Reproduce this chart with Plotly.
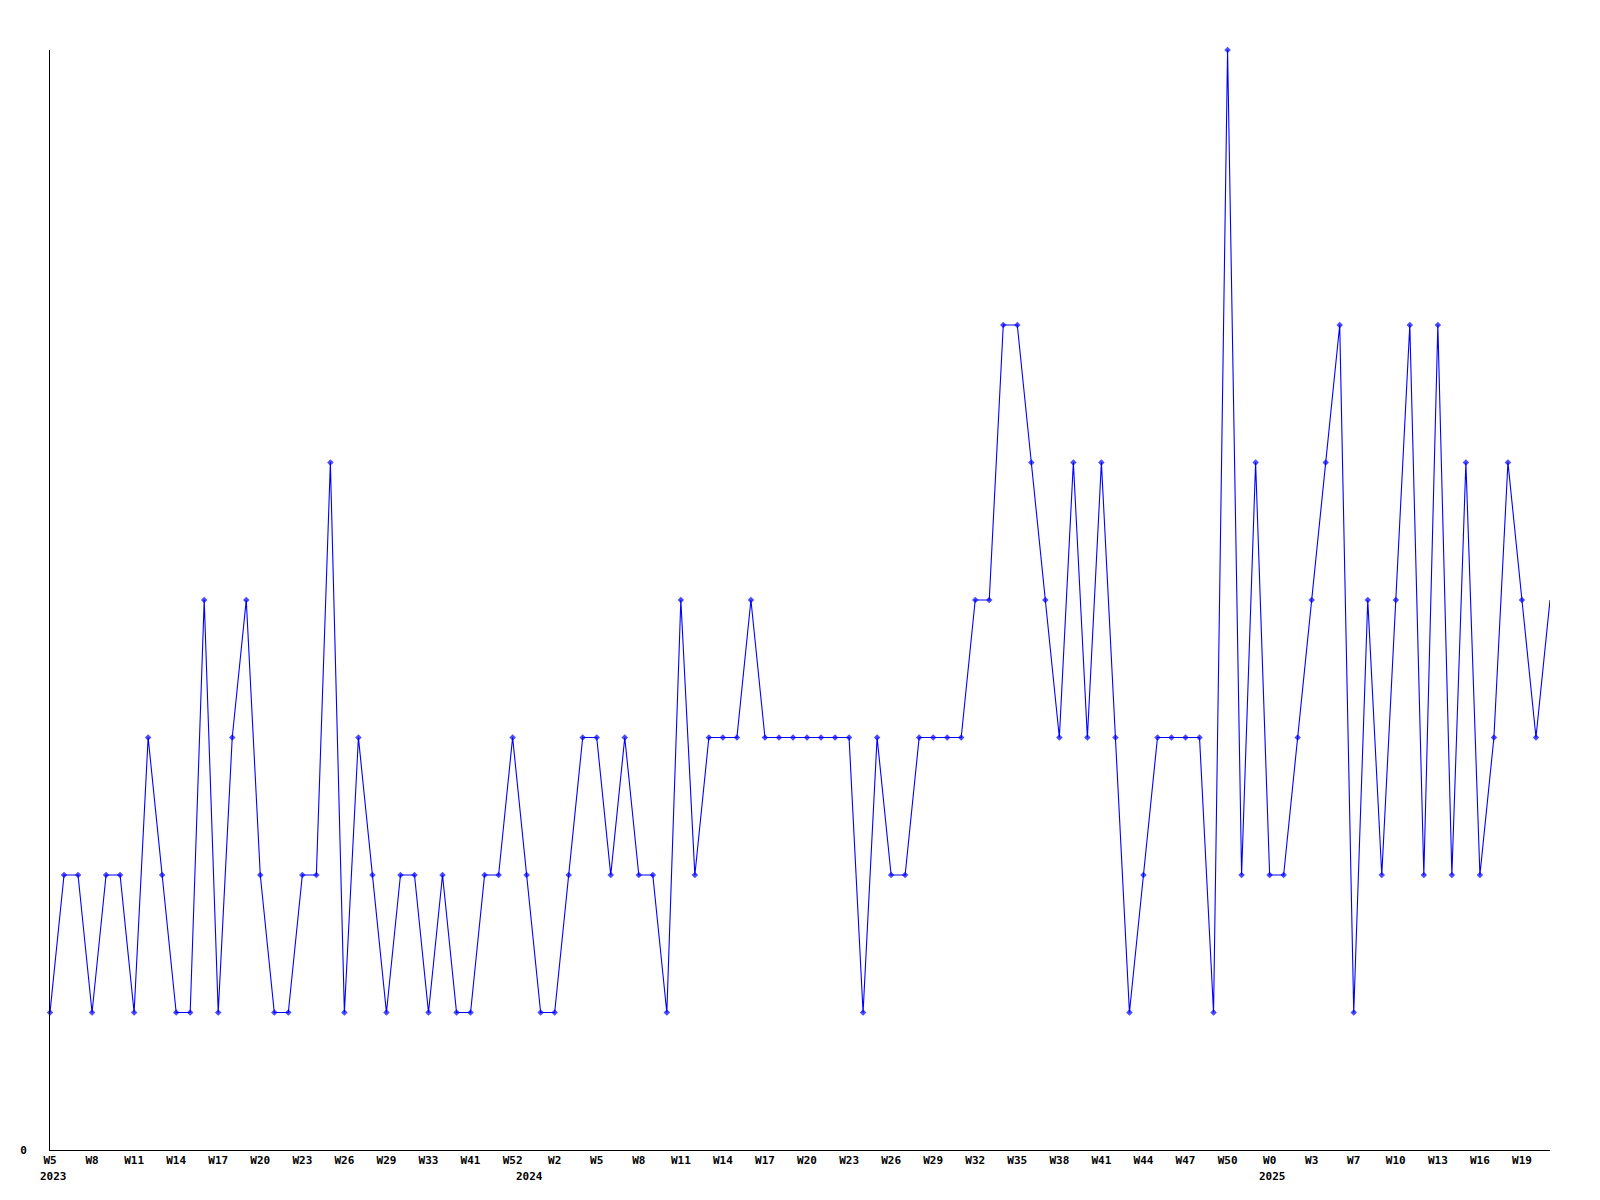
import plotly.graph_objects as go

# ---- data ----
weeks_2023 = [5, 6, 7, 8, 9, 10, 11, 12, 13, 14, 15, 16, 17, 18, 19, 20, 21, 22, 23, 24,
              25, 26, 27, 28, 29, 30, 31, 33, 35, 38, 41, 44, 48, 52]
weeks_2024 = [0, 1, 2, 3, 4, 5, 6, 7, 8, 9, 10, 11, 12, 13, 14, 15, 16, 17, 18, 19, 20,
              21, 22, 23, 24, 25, 26, 27, 28, 29, 30, 31, 32, 33, 34, 35, 36, 37, 38, 39,
              40, 41, 42, 43, 44, 45, 46, 47, 48, 49, 50, 51, 52]
weeks_2025 = [0, 1, 2, 3, 5, 6, 7, 8, 9, 10, 11, 12, 13, 14, 15, 16, 17, 18, 19, 20, 21]

values = [1, 2, 2, 1, 2, 2, 1, 3, 2, 1,
          1, 4, 1, 3, 4, 2, 1, 1, 2, 2,
          5, 1, 3, 2, 1, 2, 2, 1, 2, 1,
          1, 2, 2, 3, 2, 1, 1, 2, 3, 3,
          2, 3, 2, 2, 1, 4, 2, 3, 3, 3,
          4, 3, 3, 3, 3, 3, 3, 3, 1, 3,
          2, 2, 3, 3, 3, 3, 4, 4, 6, 6,
          5, 4, 3, 5, 3, 5, 3, 1, 2, 3,
          3, 3, 3, 1, 8, 2, 5, 2, 2, 3,
          4, 5, 6, 1, 4, 2, 4, 6, 2, 6,
          2, 5, 2, 3, 5, 4, 3, 4]

year_labels = ["2023", "2024", "2025"]
year_weeks = [weeks_2023, weeks_2024, weeks_2025]

# ---- build categories ----
categories = []
week_text = []
year_first_cat = []
for yl, wl in zip(year_labels, year_weeks):
    for j, w in enumerate(wl):
        key = f"{yl}-W{w:02d}"
        if j == 0:
            year_first_cat.append(key)
        categories.append(key)
        week_text.append(f"W{w}")

tick_step = 3
tickvals = categories[::tick_step]
ticktext = week_text[::tick_step]

FONT = "DejaVu Sans Mono"
BLUE = "#0000ff"

marker_sizes = [5] * len(values)
marker_sizes[-1] = 0

fig = go.Figure()
fig.add_trace(go.Scatter(
    x=categories, y=values, mode="lines+markers",
    line=dict(color=BLUE, width=1.1),
    marker=dict(symbol="diamond", size=marker_sizes, color=BLUE, line=dict(width=0)),
    cliponaxis=False, showlegend=False,
))

for yl, cat in zip(year_labels, year_first_cat):
    fig.add_annotation(
        x=cat, y=0, xref="x", yref="paper", text=yl, showarrow=False,
        yshift=-26, xshift=3, yanchor="middle", xanchor="center",
        font=dict(family=FONT, size=11, color="black", weight="bold"),
    )

fig.update_layout(
    width=1600, height=1200,
    margin=dict(l=42, r=58, t=42, b=58),
    paper_bgcolor="white", plot_bgcolor="white",
    font=dict(family=FONT, size=11, color="black"),
    xaxis=dict(
        type="category", categoryorder="array", categoryarray=categories,
        range=[0, len(categories) - 1],
        tickvals=tickvals, ticktext=ticktext,
        showgrid=False, zeroline=False, showline=True, linecolor="black", linewidth=1,
        ticks="", ticklabelstandoff=0,
        tickfont=dict(family=FONT, size=11, color="black", weight="bold"),
        tickangle=0,
    ),
    yaxis=dict(
        range=[0, 8], tickvals=[0], ticktext=["0"],
        showgrid=False, zeroline=False, showline=True, linecolor="black", linewidth=1,
        ticks="", ticklabelstandoff=20,
        tickfont=dict(family=FONT, size=11, color="black", weight="bold"),
    ),
)

fig.write_html("out.html")
